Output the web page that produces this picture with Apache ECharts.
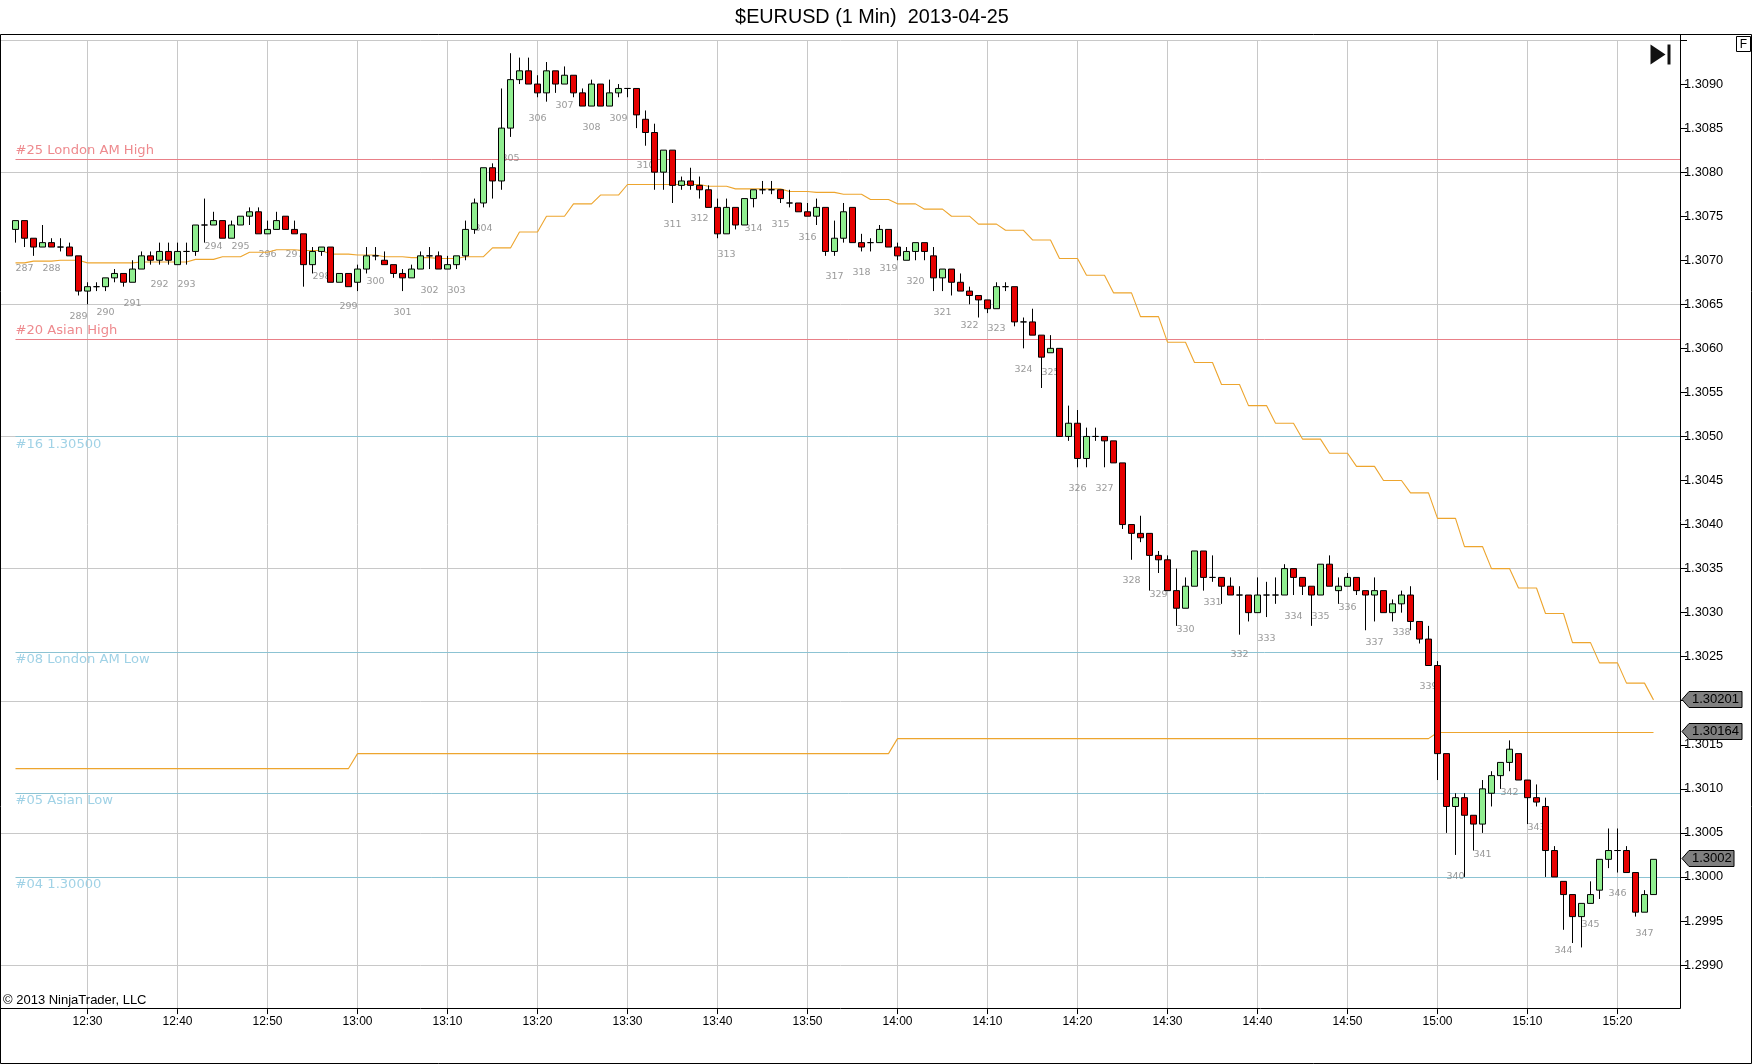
<!DOCTYPE html>
<html>
<head>
<meta charset="utf-8">
<script src="https://cdn.jsdelivr.net/npm/echarts@6/dist/echarts.min.js"></script>
<style>html,body{margin:0;padding:0;background:#fff}#c{width:1752px;height:1064px}</style>
</head>
<body>
<div id="c"></div>
<script>
const titleText = '$EURUSD (1 Min)  2013-04-25';
const copyrightText = '\u00a9 2013 NinjaTrader, LLC';
const firstMinute = 742; // 12:22
const opens = [
1.30735,1.30745,1.30725,1.30715,1.3072,1.30715,1.30715,1.30705,1.30665,1.3067,
1.3067,1.3068,1.30685,1.30675,1.3069,1.30705,1.307,1.3071,1.30695,1.3071,
1.3071,1.3074,1.3074,1.30745,1.30725,1.3074,1.3075,1.30755,1.3073,1.30735,
1.3075,1.30735,1.3073,1.30695,1.3071,1.30715,1.30675,1.30685,1.30675,1.3069,
1.30705,1.307,1.30695,1.30685,1.3068,1.3069,1.30705,1.30705,1.3069,1.30695,
1.30705,1.30735,1.30765,1.30805,1.3079,1.3085,1.30905,1.30915,1.309,1.3089,
1.30915,1.309,1.3091,1.3089,1.30875,1.309,1.30875,1.3089,1.30895,1.30895,
1.3086,1.30845,1.308,1.30825,1.30785,1.3079,1.30785,1.3078,1.3076,1.3073,
1.3076,1.3074,1.3077,1.3078,1.3078,1.3078,1.30765,1.30765,1.30755,1.3075,
1.3076,1.3071,1.30725,1.3076,1.3072,1.3072,1.3072,1.30735,1.30715,1.307,
1.3071,1.3072,1.30705,1.3068,1.3069,1.30675,1.30665,1.3066,1.30655,1.30645,
1.3067,1.3067,1.3063,1.3063,1.30615,1.30595,1.306,1.305,1.30515,1.30475,
1.305,1.305,1.30495,1.3047,1.304,1.3039,1.3039,1.30365,1.3036,1.30325,
1.30305,1.3033,1.3037,1.3034,1.3034,1.3033,1.3032,1.3032,1.303,1.3032,
1.3032,1.3032,1.3035,1.3034,1.3033,1.3032,1.30355,1.30325,1.3033,1.3034,
1.30325,1.3032,1.30325,1.303,1.3031,1.3032,1.3029,1.3027,1.3024,1.3014,
1.3008,1.3009,1.3007,1.3006,1.30095,1.30115,1.3013,1.3014,1.3011,1.3009,
1.3008,1.3003,1.29995,1.2998,1.29955,1.2997,1.29985,1.3002,1.3003,1.3003,1.30005,1.2996,1.2998];
const closes = [
1.30745,1.30725,1.30715,1.3072,1.30715,1.30715,1.30705,1.30665,1.3067,1.3067,
1.3068,1.30685,1.30675,1.3069,1.30705,1.307,1.3071,1.307,1.3071,1.3071,
1.3074,1.3074,1.30745,1.30725,1.3074,1.3075,1.30755,1.3073,1.30735,1.30745,
1.30735,1.3073,1.30695,1.3071,1.30715,1.30675,1.30685,1.3067,1.3069,1.30705,
1.30705,1.30695,1.30685,1.3068,1.3069,1.30705,1.30705,1.3069,1.30695,1.30705,
1.30735,1.30765,1.30805,1.3079,1.3085,1.30905,1.30915,1.309,1.3089,1.30915,
1.309,1.3091,1.3089,1.30875,1.309,1.30875,1.3089,1.30895,1.30895,1.30865,
1.30845,1.308,1.30825,1.30785,1.3079,1.30785,1.3078,1.3076,1.3073,1.3076,
1.3074,1.3077,1.3078,1.3078,1.3078,1.3077,1.30765,1.30755,1.3075,1.3076,
1.3071,1.30725,1.30755,1.3072,1.30715,1.3072,1.30735,1.30715,1.30705,1.3071,
1.3072,1.3071,1.3068,1.3069,1.30675,1.30665,1.3066,1.30655,1.30645,1.3067,
1.3067,1.3063,1.3063,1.30615,1.3059,1.306,1.305,1.30515,1.30475,1.305,
1.305,1.30495,1.3047,1.304,1.3039,1.30385,1.30365,1.3036,1.30325,1.30305,
1.3033,1.3037,1.3034,1.3034,1.3033,1.3032,1.3032,1.303,1.3032,1.3032,
1.3032,1.3035,1.3034,1.3033,1.3032,1.30355,1.3033,1.3033,1.3034,1.30325,
1.3032,1.30325,1.303,1.3031,1.3032,1.3029,1.3027,1.3024,1.3014,1.3008,
1.3009,1.3007,1.3006,1.301,1.30115,1.3013,1.30145,1.3011,1.3009,1.30085,
1.3003,1.3,1.2998,1.29955,1.2997,1.2998,1.3002,1.3003,1.3003,1.30005,1.2996,1.2998,1.3002];
const lows = [
1.3072,1.30715,1.30705,1.30715,1.30715,1.3071,1.30705,1.3066,1.3065,1.30665,
1.30665,1.30675,1.3067,1.30675,1.3069,1.30695,1.30695,1.30695,1.30695,1.30695,
1.30705,1.3072,1.3074,1.30725,1.30725,1.3074,1.3074,1.3073,1.3073,1.30735,
1.30735,1.3073,1.3067,1.30685,1.30705,1.30675,1.30675,1.3067,1.30665,1.30685,
1.307,1.30695,1.3068,1.30665,1.3068,1.3069,1.3069,1.3069,1.3069,1.3069,
1.307,1.3073,1.3076,1.3077,1.3078,1.3084,1.309,1.309,1.30885,1.3088,
1.3089,1.309,1.30885,1.30875,1.30875,1.30875,1.30875,1.30885,1.30885,1.3085,
1.3083,1.3078,1.3078,1.30765,1.3078,1.3078,1.3077,1.3076,1.30725,1.3073,
1.30735,1.3074,1.3076,1.30775,1.30775,1.30765,1.3076,1.30755,1.3075,1.3074,
1.30705,1.30705,1.3072,1.3072,1.3071,1.3071,1.3072,1.30715,1.307,1.307,
1.307,1.307,1.30665,1.30665,1.3066,1.30665,1.3065,1.30635,1.3064,1.30645,
1.30665,1.30625,1.306,1.30615,1.30555,1.30595,1.305,1.30495,1.30465,1.30465,
1.30495,1.30465,1.3047,1.30395,1.3036,1.3038,1.30325,1.30345,1.30325,1.30285,
1.30305,1.3033,1.30325,1.30335,1.3031,1.3032,1.30275,1.3029,1.303,1.30295,
1.3031,1.3032,1.3032,1.3032,1.30285,1.3032,1.3033,1.3031,1.3033,1.3032,
1.3028,1.3029,1.303,1.3029,1.303,1.3028,1.30265,1.3024,1.3011,1.3005,
1.30025,1.3,1.3003,1.3005,1.3008,1.301,1.3012,1.3011,1.3006,1.3008,
1.3,1.3,1.2994,1.29925,1.2992,1.2997,1.29975,1.3001,1.30005,1.30005,1.29955,1.2996,1.2998];
const highs = [
1.30745,1.30745,1.30725,1.3074,1.30725,1.30725,1.3072,1.30705,1.30675,1.30675,
1.3068,1.3069,1.30685,1.307,1.3071,1.3071,1.3072,1.3072,1.3072,1.3072,
1.3074,1.3077,1.30755,1.30745,1.30745,1.3075,1.3076,1.3076,1.30745,1.30755,
1.3075,1.30745,1.3073,1.30715,1.30715,1.30715,1.30685,1.30685,1.30695,1.30715,
1.30715,1.3071,1.30695,1.3069,1.30695,1.3071,1.30715,1.3071,1.30705,1.30705,
1.30745,1.3077,1.30805,1.3081,1.30895,1.30935,1.3093,1.3093,1.3091,1.30925,
1.30915,1.3092,1.3091,1.30895,1.30905,1.309,1.30905,1.309,1.30895,1.30895,
1.3087,1.30855,1.30825,1.30825,1.30795,1.30805,1.30795,1.30785,1.3077,1.3077,
1.3076,1.3077,1.3078,1.3079,1.3079,1.3078,1.3078,1.30765,1.30765,1.3077,
1.3076,1.30745,1.30765,1.3076,1.3073,1.30725,1.3074,1.30735,1.3072,1.30715,
1.3072,1.3072,1.30715,1.3069,1.3069,1.30685,1.3067,1.3066,1.30655,1.30675,
1.30675,1.3067,1.30635,1.30645,1.30615,1.30615,1.306,1.30535,1.3053,1.3051,
1.3051,1.305,1.30495,1.3047,1.304,1.3041,1.3039,1.3037,1.30365,1.3035,
1.3034,1.3037,1.3037,1.30365,1.3034,1.3034,1.3033,1.3032,1.3034,1.30335,
1.3034,1.30355,1.3035,1.3034,1.3033,1.30355,1.30365,1.3034,1.30345,1.3034,
1.30325,1.3034,1.30325,1.30315,1.30325,1.3033,1.3029,1.30285,1.30245,1.3014,
1.30095,1.30095,1.3007,1.3011,1.3012,1.3013,1.30155,1.3014,1.3011,1.30105,
1.3009,1.30035,1.29995,1.2998,1.2997,1.29995,1.3002,1.30055,1.30055,1.30035,1.30005,1.29985,1.3002];
const upperAverage = [
1.30697,1.30697,
1.30699,1.30699,1.30699, 1.307,1.307,1.307, 1.30697,1.30697,1.30697, 1.30697,1.30697,1.30697,
1.30698,1.30698,1.30698, 1.30698,1.30698,1.30698, 1.30701,1.30701,1.30701, 1.30704,1.30704,1.30704,
1.30709,1.30709,1.30709, 1.30712,1.30712,1.30712, 1.30711,1.30711,1.30711, 1.30707,1.30707,1.30707,
1.30706,1.30706,1.30706, 1.30704,1.30704,1.30704, 1.30703,1.30703,1.30703, 1.30702,1.30702,1.30702,
1.30704,1.30704,1.30704, 1.30714,1.30714,1.30714, 1.30732,1.30732,1.30732, 1.3075,1.3075,1.3075,
1.30764,1.30764,1.30764, 1.30774,1.30774,1.30774, 1.30786,1.30786,1.30786, 1.30786,1.30786,1.30786,
1.30786,1.30786,1.30786, 1.30784,1.30784,1.30784, 1.30781,1.30781,1.30781, 1.30781,1.30781,1.30781,
1.30778,1.30778,1.30778, 1.30777,1.30777,1.30777, 1.30775,1.30775,1.30775, 1.30769,1.30769,1.30769,
1.30764,1.30764,1.30764, 1.30758,1.30758,1.30758, 1.3075,1.3075,1.3075, 1.30741,1.30741,1.30741,
1.30734,1.30734,1.30734, 1.30723,1.30723,1.30723, 1.30702,1.30702,1.30702, 1.30683,1.30683,1.30683,
1.30663,1.30663,1.30663, 1.30636,1.30636,1.30636, 1.30607,1.30607,1.30607, 1.30584,1.30584,1.30584,
1.30559,1.30559,1.30559, 1.30535,1.30535,1.30535, 1.30515,1.30515,1.30515, 1.30497,1.30497,1.30497,
1.30481,1.30481,1.30481, 1.30466,1.30466,1.30466, 1.3045,1.3045,1.3045, 1.30436,1.30436,1.30436,
1.30407,1.30407,1.30407, 1.30375,1.30375,1.30375, 1.3035,1.3035,1.3035, 1.30328,1.30328,1.30328,
1.30299,1.30299,1.30299, 1.30266,1.30266,1.30266, 1.30243,1.30243,1.30243, 1.3022,1.3022,1.3022,
1.30201];
// lower average: [bar index, value] at each end of its flat stretches
const lowerAverageBreaks = [[0,1.30123],[37,1.30123],[38,1.3014],[97,1.3014],[98,1.30157],[157,1.30157],[158,1.30164],[182,1.30164]];
const swingLabels = [287,288,289,290,291,292,293,294,295,296,297,298,299,300,301,302,303,304,305,306,307,308,309,310,311,312,313,314,315,316,317,318,319,320,321,322,323,324,325,326,327,328,329,330,331,332,333,334,335,336,337,338,339,340,341,342,343,344,345,346,347];
const swingPrices = [1.30691,1.30691,1.30636,1.30641,1.30651,1.30672,1.30672,1.30716,1.30716,1.30706,1.30706,1.30681,1.30647,1.30676,1.30641,1.30666,1.30666,1.30736,1.30816,1.30861,1.30876,1.30851,1.30861,1.30807,1.3074,1.30747,1.30706,1.30736,1.30741,1.30726,1.30681,1.30686,1.30691,1.30676,1.30641,1.30626,1.30622,1.30576,1.30572,1.30441,1.30441,1.30337,1.30321,1.30281,1.30311,1.30252,1.30271,1.30296,1.30296,1.30306,1.30266,1.30277,1.30216,1.30001,1.30026,1.30096,1.30056,1.29917,1.29946,1.29981,1.29936];
const levelNames = ['#25 London AM High','#20 Asian High','#16 1.30500','#08 London AM Low','#05 Asian Low','#04 1.30000'];
const levelPrices = [1.30815,1.3061,1.305,1.30255,1.30095,1.3];
const gridPrices = [1.299,1.3005,1.302,1.3035,1.305,1.3065,1.308,1.3095];
const priceTicks = [1.299,1.2995,1.3,1.3005,1.301,1.3015,1.302,1.3025,1.303,1.3035,1.304,1.3045,1.305,1.3055,1.306,1.3065,1.307,1.3075,1.308,1.3085,1.309,1.3095];
const priceLabels = [1.299,1.2995,1.3,1.3005,1.301,1.3015,1.302,1.3025,1.303,1.3035,1.304,1.3045,1.305,1.3055,1.306,1.3065,1.307,1.3075,1.308,1.3085,1.309];
const timeTicks = [750,760,770,780,790,800,810,820,830,840,850,860,870,880,890,900,910,920];
const badgePrices = [1.30201,1.30164,1.3002];
const badgeTexts = ['1.30201','1.30164','1.3002'];

const RED='#e60000', GREEN='#90ee90', ORANGE='#eda52e', GRID='#c8c8c8';
const UPCOL='#e98088', DOWNCOL='#8cc3d3';
const FONT='"Liberation Sans",Arial,sans-serif';
const xMin = 750 - 87.5 / 9;
const xMax = 750 + (1681 - 87.5) / 9;

function hhmm(v){const h=Math.floor(v/60),m=Math.round(v%60);return h+':'+String(m).padStart(2,'0');}
const candleData = opens.map((o,i)=>[firstMinute+i,o,closes[i],lows[i],highs[i]]);
const upperData = upperAverage.map((v,i)=>[firstMinute+i,v]);
const lowerData = lowerAverageBreaks.map(b=>[firstMinute+b[0],b[1]]);
const swingData = swingLabels.map((n,i)=>[firstMinute+1+3*i,swingPrices[i],n]);

const levelLines = levelNames.map((name,i)=>{
  const up = levelPrices[i] > 1.306;
  const col = up ? UPCOL : DOWNCOL;
  return [{
    coord:[firstMinute,levelPrices[i]],
    lineStyle:{color:col,width:1,type:'solid'},
    label:{show:true,formatter:name,position:up?'insideStartTop':'insideStartBottom',
      color:up?'#ee8a8e':'#a0d2e6',fontFamily:'"DejaVu Sans",sans-serif',fontSize:13.1,distance:up?[0,2]:[0,1.2]}
  },{coord:[xMax,levelPrices[i]]}];
});
const gridLines = gridPrices.map(p=>[{coord:[xMin,p]},{coord:[xMax,p]}])
  .concat(timeTicks.map(t=>[{coord:[t,1.2985]},{coord:[t,1.3095]}]));

const chart = echarts.init(document.getElementById('c'),null,{renderer:'canvas'});
chart.setOption({
  animation:false,
  backgroundColor:'#fff',
  title:{text:titleText,left:867,top:3,textAlign:'center',
    textStyle:{fontFamily:FONT,fontWeight:'normal',fontSize:19.8,color:'#000'}},
  grid:{left:0,right:71,top:40,bottom:54.9,containLabel:false},
  xAxis:{type:'value',min:xMin,max:xMax,
    axisLine:{show:false},
    axisTick:{show:true,length:5,lineStyle:{color:'#000'},customValues:timeTicks},
    axisLabel:{show:true,margin:7,color:'#000',fontFamily:FONT,fontSize:12,customValues:timeTicks,formatter:v=>hhmm(v)},
    splitLine:{show:false}},
  yAxis:{type:'value',position:'right',min:1.2985,max:1.3095,interval:0.0005,scale:true,
    axisLine:{show:false},
    axisTick:{show:true,length:6,lineStyle:{color:'#000'},customValues:priceTicks},
    axisLabel:{show:true,margin:3,color:'#000',fontFamily:FONT,fontSize:12.8,align:'left',customValues:priceLabels,formatter:v=>v.toFixed(4)},
    splitLine:{show:false}},
  graphic:[
    {type:'rect',z:100,silent:true,shape:{x:0.5,y:34.5,width:1751,height:1029},style:{fill:'none',stroke:'#000',lineWidth:1}},
    {type:'line',z:100,silent:true,shape:{x1:1680.5,y1:34.5,x2:1680.5,y2:1008.5},style:{stroke:'#000',lineWidth:1}},
    {type:'line',z:100,silent:true,shape:{x1:0.5,y1:1008.5,x2:1680.5,y2:1008.5},style:{stroke:'#000',lineWidth:1}},
    {type:'rect',z:100,silent:true,shape:{x:1736.5,y:36.5,width:14,height:15},style:{fill:'#fff',stroke:'#000',lineWidth:1}},
    {type:'text',z:101,silent:true,style:{x:1743.5,y:44.5,text:'F',align:'center',verticalAlign:'middle',fontFamily:FONT,fontSize:12,fill:'#000'}},
    {type:'polygon',z:100,silent:true,shape:{points:[[1650.5,44.5],[1665.5,54.5],[1650.5,64.5]]},style:{fill:'#111'}},
    {type:'rect',z:100,silent:true,shape:{x:1667.5,y:44.5,width:3,height:20},style:{fill:'#111'}},
    {type:'text',z:100,silent:true,style:{x:3,y:1000.5,text:copyrightText,align:'left',verticalAlign:'middle',fontFamily:FONT,fontSize:13,fill:'#000'}}
  ],
  series:[
    {name:'swing',type:'scatter',z:3,symbolSize:0,data:swingData,silent:true,
      label:{show:true,position:'inside',formatter:p=>String(p.value[2]),color:'#808080',fontFamily:'"DejaVu Sans",sans-serif',fontSize:9.5},
      markLine:{silent:true,symbol:'none',z:1,animation:false,label:{show:false},
        lineStyle:{color:GRID,width:1,type:'solid'},
        data:gridLines}},
    {name:'upper',type:'line',z:6,data:upperData,showSymbol:false,silent:true,lineStyle:{color:ORANGE,width:1.1},
      markLine:{silent:true,symbol:'none',z:2,animation:false,data:levelLines}},
    {name:'lower',type:'line',z:6,data:lowerData,showSymbol:false,silent:true,lineStyle:{color:ORANGE,width:1.1}},
    {name:'bars',type:'candlestick',z:8,data:candleData,barWidth:6,silent:true,encode:{x:0,y:[1,2,3,4]},
      itemStyle:{color:GREEN,color0:RED,borderColor:'#000',borderColor0:'#000',borderColorDoji:'#000',borderWidth:1}},
    {name:'badges',type:'custom',z:20,clip:false,silent:true,coordinateSystem:'cartesian2d',
      data:badgePrices.map((p,i)=>[xMax,p,i]),
      encode:{x:0,y:1},
      renderItem:(params,api)=>{
        const c=api.coord([api.value(0),api.value(1)]);
        const t=badgeTexts[api.value(2)];
        const x=c[0]+1, y=Math.round(c[1])-0.5, right=x+(t.length===7?60:52);
        return {type:'group',children:[
          {type:'polygon',shape:{points:[[x,y],[x+7,y-8],[right,y-8],[right,y+8],[x+7,y+8]]},style:{fill:'#808080',stroke:'#000',lineWidth:1}},
          {type:'text',style:{x:x+10,y:y,text:t,fontFamily:FONT,fontSize:13,fill:'#000',verticalAlign:'middle',align:'left'}}
        ]};
      }}
  ]
});
</script>
</body>
</html>
